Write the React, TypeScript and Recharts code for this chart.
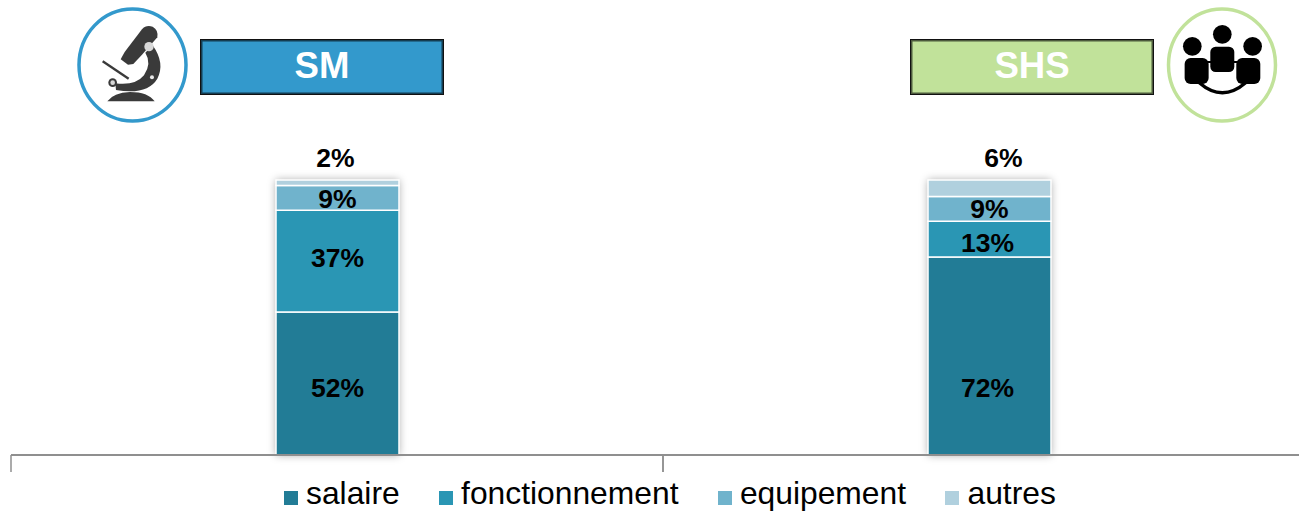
import React from 'react';
import { BarChart, Bar, XAxis, YAxis, Legend, LabelList } from 'recharts';

const categories = ['SM', 'SHS'];
const salaire = [52, 72];
const fonctionnement = [37, 13];
const equipement = [9, 9];
const autres = [2, 6];

const seriesNames = ['salaire', 'fonctionnement', 'equipement', 'autres'];
const seriesColors = ['#227C96', '#2A96B4', '#70B3CC', '#B0D0DE'];

const rows = categories.map((name, i) => ({
  name,
  salaire: salaire[i],
  fonctionnement: fonctionnement[i],
  equipement: equipement[i],
  autres: autres[i],
}));

const FONT = '"Liberation Sans", Arial, sans-serif';
const BAND = 652;

// labels in the original sit off-centre, [dx, dy] per category
const labelNudge: Record<string, number[][]> = {
  salaire: [[0, 4], [-2, 32]],
  fonctionnement: [[0, -3], [-2, 4]],
  equipement: [[0, 1], [0, 0]],
  autres: [[-2, -25], [14, -30]],
};

const BoundaryTick = (props: any) => {
  const { x, y } = props;
  return (
    <g stroke="#8f8f8f" strokeWidth={1.5}>
      <line x1={x - BAND / 2} x2={x - BAND / 2} y1={y} y2={y + 17} />
      <line x1={x + BAND / 2} x2={x + BAND / 2} y1={y} y2={y + 17} />
    </g>
  );
};

const makeLabel = (series: string) => (props: any) => {
  const { x, y, width, height, value, index } = props;
  const [dx, dy] = labelNudge[series][index];
  return (
    <text
      x={x + width / 2 + dx}
      y={y + height / 2 + dy}
      textAnchor="middle"
      dominantBaseline="central"
      fontFamily={FONT}
      fontWeight="bold"
      fontSize={26.5}
      fill="#000"
    >
      {value}%
    </text>
  );
};

const LegendRow = () => (
  <div style={{ display: 'flex', fontFamily: FONT, fontSize: 31.8, lineHeight: '32px', color: '#000' }}>
    {seriesNames.map((name, i) => (
      <div key={name} style={{ display: 'flex', alignItems: 'center', marginRight: 39.4 }}>
        <span style={{ width: 14, height: 14, background: seriesColors[i], marginRight: 8, marginTop: 9 }} />
        <span>{name}</span>
      </div>
    ))}
  </div>
);

const Header = ({ label, left, fill }: { label: string; left: number; fill: string }) => (
  <div
    style={{
      position: 'absolute',
      left,
      top: 39,
      width: 244,
      height: 56,
      boxSizing: 'border-box',
      background: fill,
      border: '1.5px solid #111',
      boxShadow: 'inset 0 0 0 1.5px rgba(0,0,0,0.6)',
      color: '#fff',
      fontFamily: FONT,
      fontWeight: 'bold',
      fontSize: 36.6,
      lineHeight: '52px',
      textAlign: 'center',
    }}
  >
    {label}
  </div>
);

const Icons = () => (
  <svg width={1299} height={130} style={{ position: 'absolute', left: 0, top: 0 }}>
    <ellipse cx={132.5} cy={65} rx={53.5} ry={56} fill="#fff" stroke="#3399CC" strokeWidth={3.5} />
    <ellipse cx={1222} cy={65} rx={53.5} ry={56} fill="#fff" stroke="#C1E29A" strokeWidth={3.5} />

    {/* microscope */}
    <g transform="translate(60,0) scale(0.3333)" fill="#3a3a3a">
      <path d="M182 178 L194 156 L246 88 Q258 74 278 80 Q296 90 292 112 L248 162 L220 192 L204 194 Z" />
      <path d="M278 136 Q316 190 292 236 Q262 286 168 270 L166 250 Q226 258 252 226 Q276 190 256 158 Z" />
      <path d="M142 304 Q160 278 210 276 Q264 276 284 304 Z" />
      <path d="M128 184 L206 236" stroke="#3a3a3a" strokeWidth={7} fill="none" />
      <circle cx={158} cy={248} r={13} />
      <circle cx={158} cy={248} r={7} fill="#d8d8d8" />
      <circle cx={267} cy={140} r={14} fill="#d8d8d8" />
      <circle cx={276} cy={232} r={6} fill="#e8e8e8" />
    </g>

    {/* people */}
    <g transform="translate(900,0) scale(0.3333)" fill="#000">
      <circle cx={967} cy={103} r={28} />
      <circle cx={877} cy={139} r={28} />
      <circle cx={1058} cy={139} r={28} />
      <rect x={931} y={140} width={72} height={76} rx={16} />
      <rect x={854} y={174} width={72} height={78} rx={18} />
      <rect x={1009} y={174} width={72} height={78} rx={18} />
      <path d="M920 186 L1014 186" stroke="#000" strokeWidth={6} />
      <path d="M898 248 Q967 308 1037 248" fill="none" stroke="#000" strokeWidth={10} />
    </g>
  </svg>
);

export default function App() {
  return (
    <div style={{ position: 'absolute', left: 0, top: 0, width: 1299, height: 512, overflow: 'hidden', background: '#fff' }}>
      <div style={{ position: 'absolute', left: 0, top: 0 }}>
        <BarChart width={1330} height={512} data={rows} margin={{ top: 180, right: 15, bottom: 27, left: 11 }}>
          <XAxis
            dataKey="name"
            height={30}
            axisLine={{ stroke: '#8f8f8f', strokeWidth: 2 }}
            tickLine={false}
            tickSize={0}
            tickMargin={0}
            tick={BoundaryTick}
          />
          <YAxis hide domain={[0, 100]} />
          <Legend
            verticalAlign="middle"
            content={LegendRow}
            wrapperStyle={{ left: 284, top: 477, width: 900 }}
          />
          {seriesNames.map((name, i) => (
            <Bar
              key={name}
              dataKey={name}
              stackId="a"
              barSize={123}
              fill={seriesColors[i]}
              stroke="#fff"
              strokeWidth={1.5}
              background={i === 0 ? { fill: '#fff', style: { filter: 'drop-shadow(0 0 4px rgba(0,0,0,0.35))' } } : undefined}
              isAnimationActive={false}
            >
              <LabelList dataKey={name} content={makeLabel(name)} />
            </Bar>
          ))}
        </BarChart>
      </div>
      <Icons />
      <Header label="SM" left={200} fill="#3399CC" />
      <Header label="SHS" left={910} fill="#C1E29A" />
    </div>
  );
}
